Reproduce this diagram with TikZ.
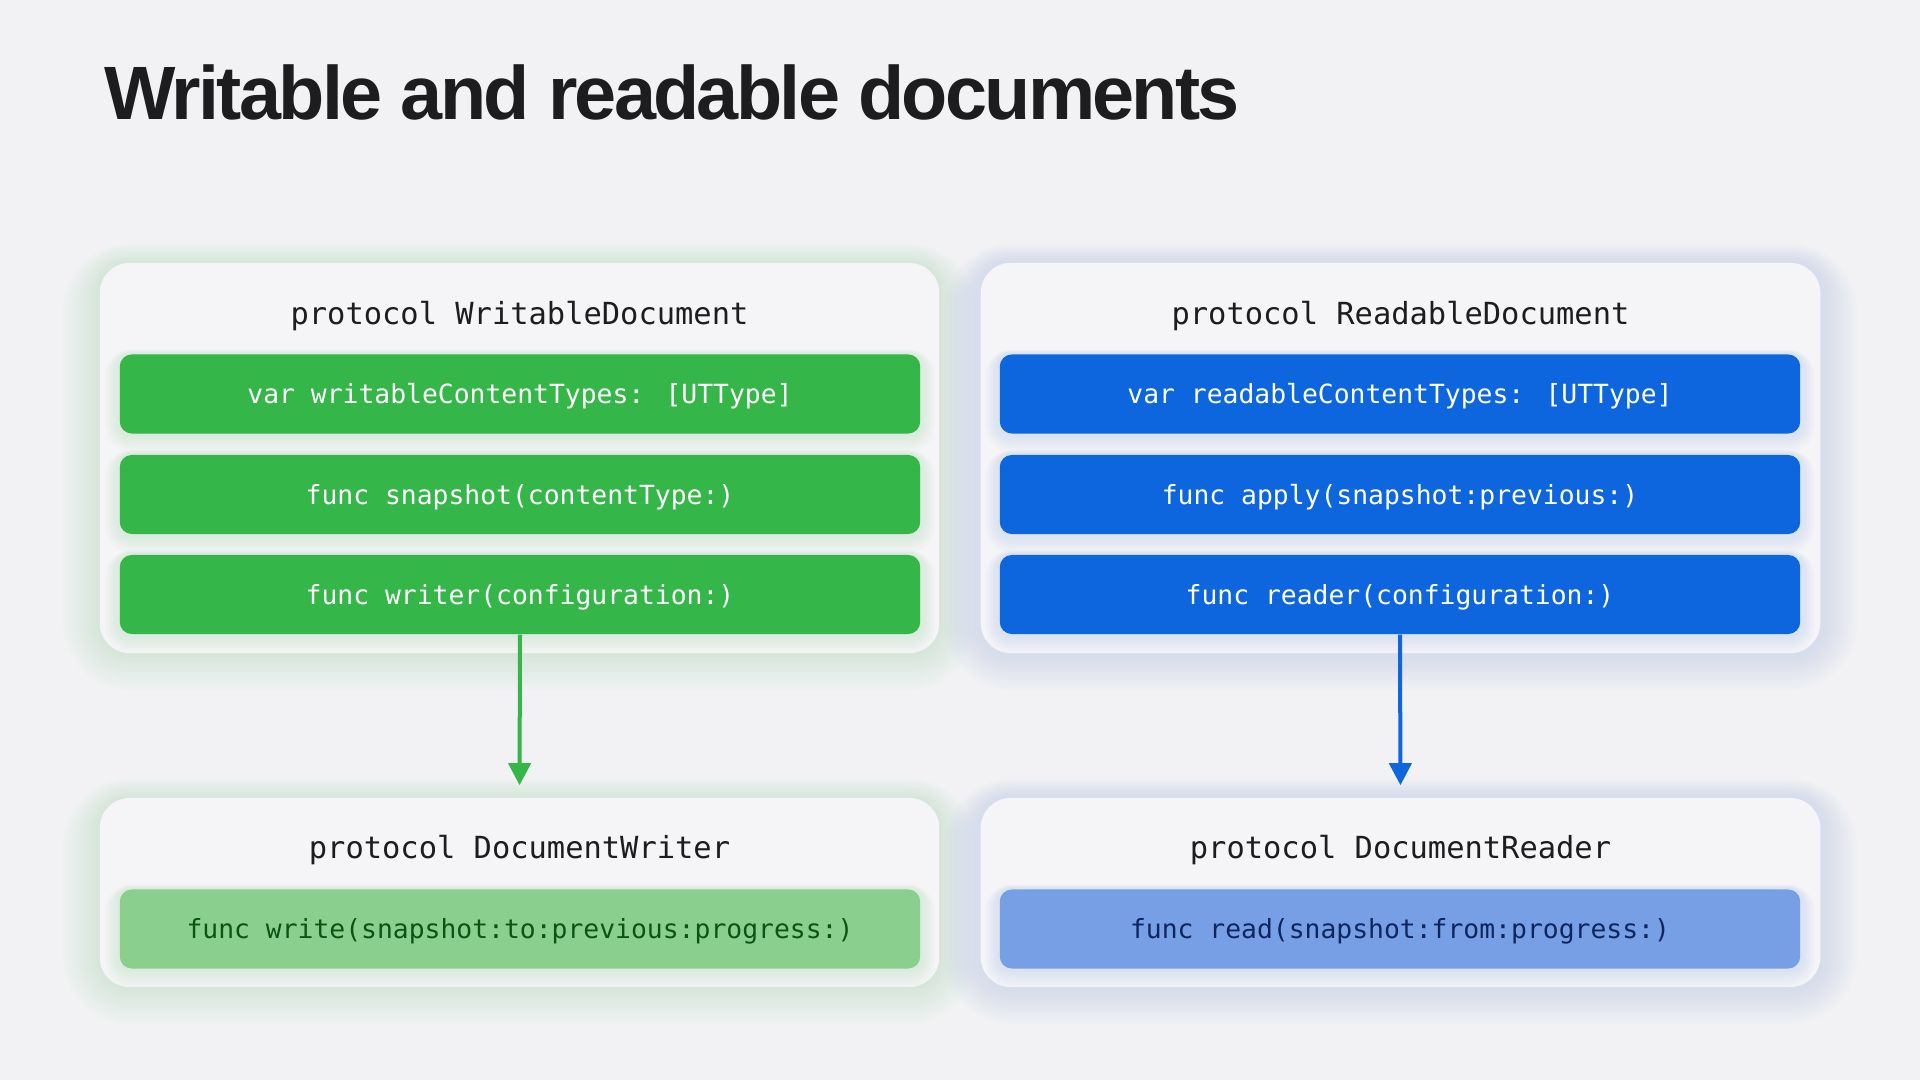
\documentclass[tikz,border=0pt]{standalone}
\usepackage{fontspec}
\usetikzlibrary{arrows.meta,calc,positioning}
\newfontfamily\titlefont[LetterSpace=-3.6]{Liberation Sans}
\newfontfamily\codefont{DejaVu Sans Mono}

\definecolor{pagebg}{RGB}{242,242,244}
\definecolor{cardbg}{RGB}{245,245,247}
\definecolor{ink}{RGB}{29,29,31}
\definecolor{writegreen}{RGB}{52,182,72}
\definecolor{readblue}{RGB}{13,102,221}
\definecolor{lightgreen}{RGB}{139,207,143}
\definecolor{lightblue}{RGB}{118,159,229}
\definecolor{darkgreen}{RGB}{12,84,22}
\definecolor{darkblue}{RGB}{14,38,96}
\definecolor{glowgreen}{RGB}{150,214,158}
\definecolor{glowblue}{RGB}{150,182,236}

\pgfdeclarelayer{bg}
\pgfdeclarelayer{glow}
\pgfdeclarelayer{cards}
\pgfdeclarelayer{rowglow}
\pgfsetlayers{bg,glow,cards,rowglow,main}

\begin{document}
\begin{tikzpicture}[x=0.01cm, y=-0.01cm,
    card/.style={fill=cardbg, rounded corners=0.3cm, minimum width=8.39cm, inner sep=0pt},
    head/.style={font=\codefont\fontsize{8.65}{10}\selectfont, text=ink, anchor=base, inner sep=0pt},
    row/.style={fill=#1, rounded corners=0.12cm, minimum width=8cm, minimum height=0.79cm,
        inner sep=0pt, text height=5.5pt, text depth=0pt, font=\codefont\fontsize{7.5}{9}\selectfont},
    link/.style={draw=#1, line width=0.04cm, -{Triangle[width=0.22cm,length=0.22cm]}, shorten >=0.12cm}]

        % page
        \begin{pgfonlayer}{bg}
            \fill[pagebg] (0,0) rectangle (1920,1080);
        \end{pgfonlayer}
        \useasboundingbox (0,0) rectangle (1920,1080);
        \node[font=\titlefont\bfseries\fontsize{21.5}{26}\selectfont, text=ink, anchor=base west, inner sep=0pt] (title) at (104,120) {Writable and readable documents};

        % cards
        \begin{pgfonlayer}{cards}
            \node[card, minimum height=3.9cm] (wdoc) at (519.5,458) {};
            \node[card, minimum height=1.89cm] (wwriter) at (519.5,892.5) {};
            \node[card, minimum height=3.9cm] (rdoc) at (1400.5,458) {};
            \node[card, minimum height=1.89cm] (rreader) at (1400.5,892.5) {};
        \end{pgfonlayer}
        \begin{pgfonlayer}{glow}
            \foreach \cardname/\tint in {wdoc/glowgreen, wwriter/glowgreen, rdoc/glowblue, rreader/glowblue}
                \foreach \g in {3,6,...,36} {
                    \pgfmathsetlengthmacro{\rr}{0.3cm+\g*0.01cm}
                    \fill[\tint, opacity=0.025, rounded corners=\rr] ($(\cardname.north west)+(-\g,-0.5*\g)$) rectangle ($(\cardname.south east)+(\g,\g)$);
                }
        \end{pgfonlayer}

        % headings
        \node[head] (wdochead) at (519.5,325) {protocol WritableDocument};
        \node[head] (rdochead) at (1400.5,325) {protocol ReadableDocument};
        \node[head] (wwriterhead) at (519.5,859) {protocol DocumentWriter};
        \node[head] (rreaderhead) at (1400.5,859) {protocol DocumentReader};

        % rows
        \foreach \nm/\y/\txt in {wvar/394/{var writableContentTypes: [UTType]}, wsnap/494.5/{func snapshot(contentType:)}, wmake/594.5/{func writer(configuration:)}}
            \node[row=writegreen, text=white] (\nm) at (520,\y) {\txt};
        \foreach \nm/\y/\txt in {rvar/394/{var readableContentTypes: [UTType]}, rapply/494.5/{func apply(snapshot:previous:)}, rmake/594.5/{func reader(configuration:)}}
            \node[row=readblue, text=white] (\nm) at (1400,\y) {\txt};
        \node[row=lightgreen, text=darkgreen] (wwrite) at (520,929) {func write(snapshot:to:previous:progress:)};
        \node[row=lightblue, text=darkblue] (rread) at (1400,929) {func read(snapshot:from:progress:)};
        \begin{pgfonlayer}{rowglow}
            \foreach \rowname/\tint in {wvar/glowgreen, wsnap/glowgreen, wmake/glowgreen, wwrite/glowgreen, rvar/glowblue, rapply/glowblue, rmake/glowblue, rread/glowblue}
                \foreach \g in {2,4,...,14} {
                    \pgfmathsetlengthmacro{\rr}{0.12cm+\g*0.01cm}
                    \fill[\tint, opacity=0.04, rounded corners=\rr] ($(\rowname.north west)+(-\g,-0.3*\g)$) rectangle ($(\rowname.south east)+(\g,1.3*\g)$);
                }
        \end{pgfonlayer}

        % arrows
        \draw[link=writegreen] (wmake.south) -- (wwriter.north);
        \draw[link=readblue] (rmake.south) -- (rreader.north);
\end{tikzpicture}
\end{document}
